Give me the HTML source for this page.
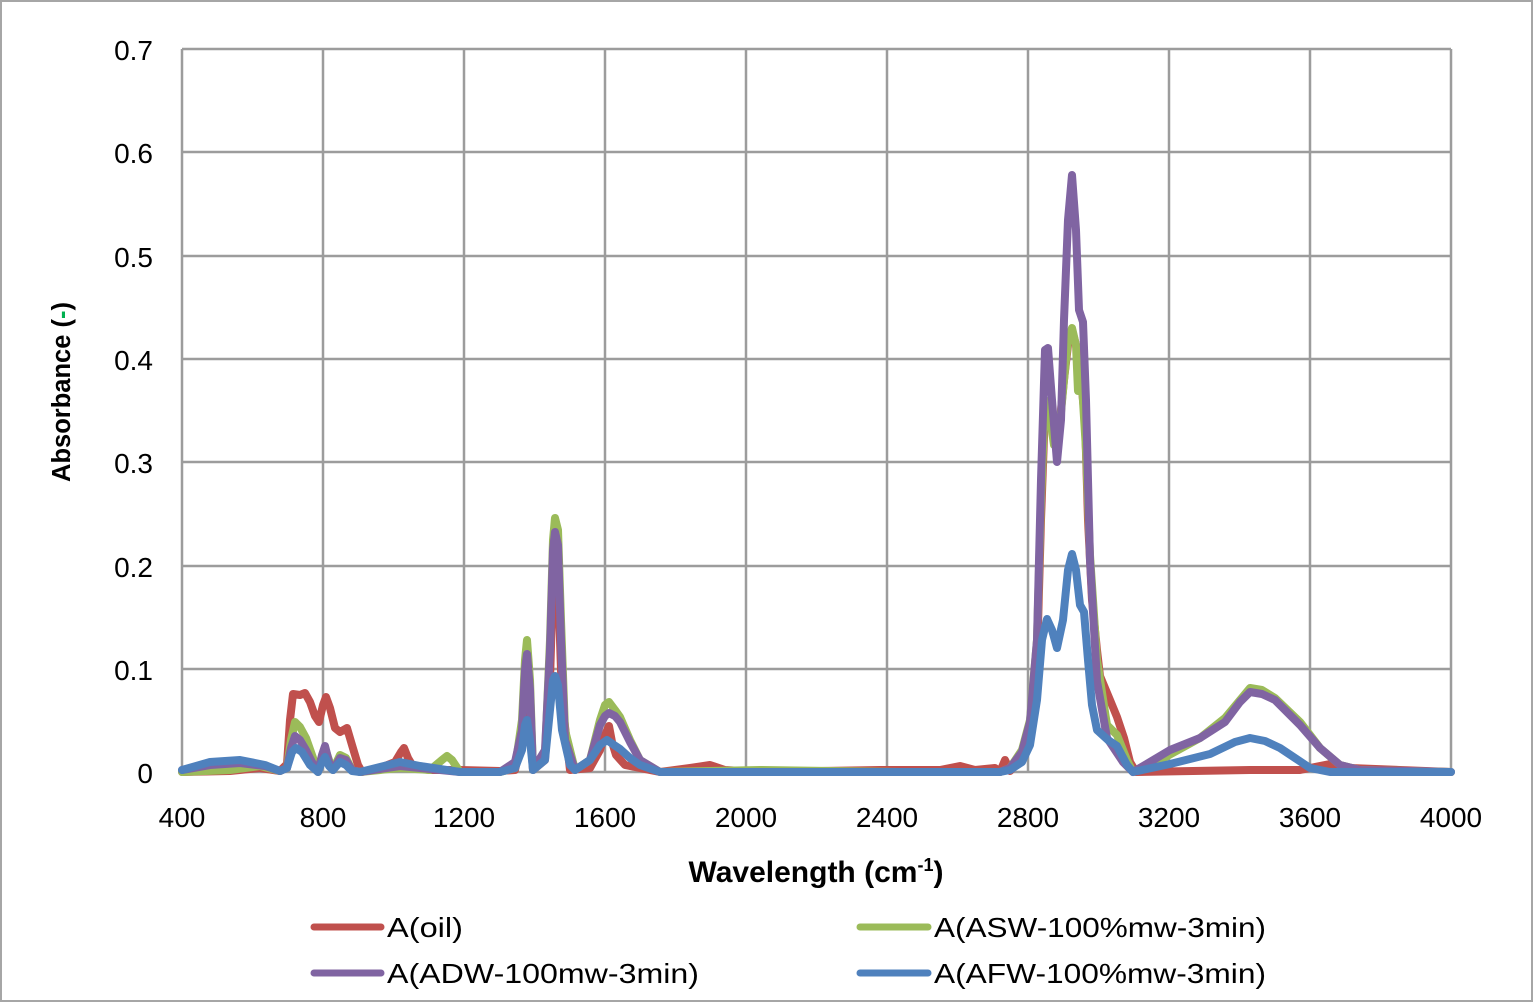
<!DOCTYPE html>
<html><head><meta charset="utf-8"><style>body{margin:0;background:#fff}svg{display:block}</style></head><body>
<svg width="1534" height="1004" xmlns="http://www.w3.org/2000/svg" font-family="'Liberation Sans',sans-serif">
<rect x="1" y="1" width="1531" height="1000" fill="#fff" stroke="#a6a6a6" stroke-width="2"/>
<g stroke="#9c9c9c" stroke-width="2.5" fill="none">
<path d="M182 49H1451M182 152H1451M182 256H1451M182 359H1451M182 462H1451M182 566H1451M182 669H1451M182 772H1451"/>
<path d="M182 49V772M323 49V772M464 49V772M605 49V772M746 49V772M887 49V772M1028 49V772M1169 49V772M1310 49V772M1451 49V772"/>
</g>
<g font-size="28" fill="#000" text-anchor="end">
<text x="153" y="60">0.7</text><text x="153" y="163">0.6</text><text x="153" y="267">0.5</text><text x="153" y="370">0.4</text><text x="153" y="473">0.3</text><text x="153" y="577">0.2</text><text x="153" y="680">0.1</text><text x="153" y="783">0</text>
</g>
<g font-size="28" fill="#000" text-anchor="middle">
<text x="182" y="827">400</text><text x="323" y="827">800</text><text x="464" y="827">1200</text><text x="605" y="827">1600</text><text x="746" y="827">2000</text><text x="887" y="827">2400</text><text x="1028" y="827">2800</text><text x="1169" y="827">3200</text><text x="1310" y="827">3600</text><text x="1451" y="827">4000</text>
</g>
<text x="816" y="882" font-size="30" font-weight="bold" text-anchor="middle">Wavelength (cm<tspan font-size="18" dy="-11">-1</tspan><tspan dy="11">)</tspan></text>
<text transform="translate(70,392) rotate(-90)" font-size="25.5" font-weight="bold" text-anchor="middle">Absorbance (<tspan fill="#00b050">-</tspan>)</text>
<g fill="none" stroke-width="8" stroke-linejoin="round" stroke-linecap="round">
<polyline stroke="#c0504d" points="182,772 230,771 260,768 280,771 287,764 290,720 293,694 300,695 305,693 310,702 315,716 319,722 323,705 326,697 330,708 335,728 340,732 347,728 352,745 358,765 362,772 380,768 395,762 401,752 404,748 408,758 414,768 430,770 460,770 500,771 515,770 524,730 527,700 530,730 533,770 545,760 550,680 553,580 555,540 558,580 562,700 570,770 590,768 600,750 605,735 609,726 612,742 616,755 625,765 660,772 690,768 710,765 725,770 760,772 880,770 940,770 960,766 975,770 995,768 1000,772 1005,760 1010,771 1022,758 1030,730 1037,660 1041,520 1045,410 1049,410 1054,440 1058,440 1064,380 1068,345 1072,330 1076,345 1080,370 1085,420 1088,520 1092,600 1097,650 1100,676 1110,700 1117,717 1124,738 1130,762 1136,772 1250,770 1300,770 1330,764 1350,768 1451,772"/>
<polyline stroke="#9bbb59" points="182,772 230,770 260,766 280,771 287,768 291,740 295,722 300,727 306,738 312,755 318,772 322,758 325,748 329,760 333,770 340,755 346,758 352,770 360,772 400,768 430,770 442,760 447,756 452,760 460,772 500,772 515,768 522,720 525,660 527,640 530,680 533,770 545,755 550,640 553,540 555,518 558,530 561,620 565,730 575,770 590,760 600,720 605,705 609,702 615,710 620,717 630,740 640,760 660,772 760,770 900,772 1000,772 1010,768 1022,750 1030,720 1037,640 1041,500 1045,400 1049,410 1054,445 1058,445 1064,380 1068,340 1072,328 1076,345 1078,391 1082,385 1086,450 1090,555 1097,660 1107,725 1117,735 1127,760 1133,772 1160,760 1200,738 1225,718 1240,700 1250,688 1262,690 1275,698 1300,722 1320,748 1340,765 1360,770 1451,772"/>
<polyline stroke="#8064a2" points="182,770 210,765 240,763 265,766 280,771 287,768 291,748 295,736 300,740 306,750 312,762 318,772 322,755 325,746 329,762 333,770 340,758 346,760 352,770 360,772 400,766 420,768 460,772 500,772 515,762 522,730 525,670 527,654 530,690 533,770 545,750 550,650 553,550 555,532 558,545 561,640 565,740 575,770 590,760 600,725 605,716 609,713 615,716 620,722 630,742 640,760 660,772 760,772 1000,772 1010,768 1022,752 1030,722 1037,640 1041,480 1045,350 1048,348 1052,400 1057,462 1061,420 1064,320 1068,220 1072,175 1076,230 1079,310 1083,322 1086,400 1090,560 1097,681 1107,738 1123,762 1133,772 1150,762 1170,750 1200,738 1225,722 1240,702 1250,692 1262,694 1275,700 1300,725 1320,748 1340,765 1360,770 1451,772"/>
<polyline stroke="#4f81bd" points="182,770 210,762 240,760 265,765 280,771 287,768 292,752 296,748 302,752 310,765 318,772 322,762 325,757 329,766 333,770 340,762 346,765 352,771 360,772 400,762 420,766 460,772 500,772 515,768 522,750 525,725 527,720 530,740 533,770 545,760 550,710 553,680 555,676 558,685 562,730 570,765 575,770 590,760 600,745 607,740 614,745 620,749 630,758 640,765 660,772 760,772 1000,772 1010,770 1022,762 1030,745 1037,700 1042,640 1047,619 1052,630 1057,648 1063,620 1068,570 1072,554 1076,570 1080,605 1084,612 1088,660 1092,705 1097,730 1108,740 1117,746 1127,765 1133,772 1170,764 1210,754 1235,742 1250,738 1265,741 1280,748 1295,758 1310,768 1330,772 1451,772"/>
</g>
<g stroke-width="7" stroke-linecap="round">
<line x1="314" y1="927" x2="381" y2="927" stroke="#c0504d"/>
<line x1="860" y1="927" x2="928" y2="927" stroke="#9bbb59"/>
<line x1="314" y1="973" x2="381" y2="973" stroke="#8064a2"/>
<line x1="860" y1="973" x2="928" y2="973" stroke="#4f81bd"/>
</g>
<g font-size="28" fill="#000">
<text x="387" y="937" textLength="76" lengthAdjust="spacingAndGlyphs">A(oil)</text>
<text x="934" y="937" textLength="332" lengthAdjust="spacingAndGlyphs">A(ASW-100%mw-3min)</text>
<text x="387" y="983" textLength="312" lengthAdjust="spacingAndGlyphs">A(ADW-100mw-3min)</text>
<text x="934" y="983" textLength="332" lengthAdjust="spacingAndGlyphs">A(AFW-100%mw-3min)</text>
</g>
</svg>
</body></html>
